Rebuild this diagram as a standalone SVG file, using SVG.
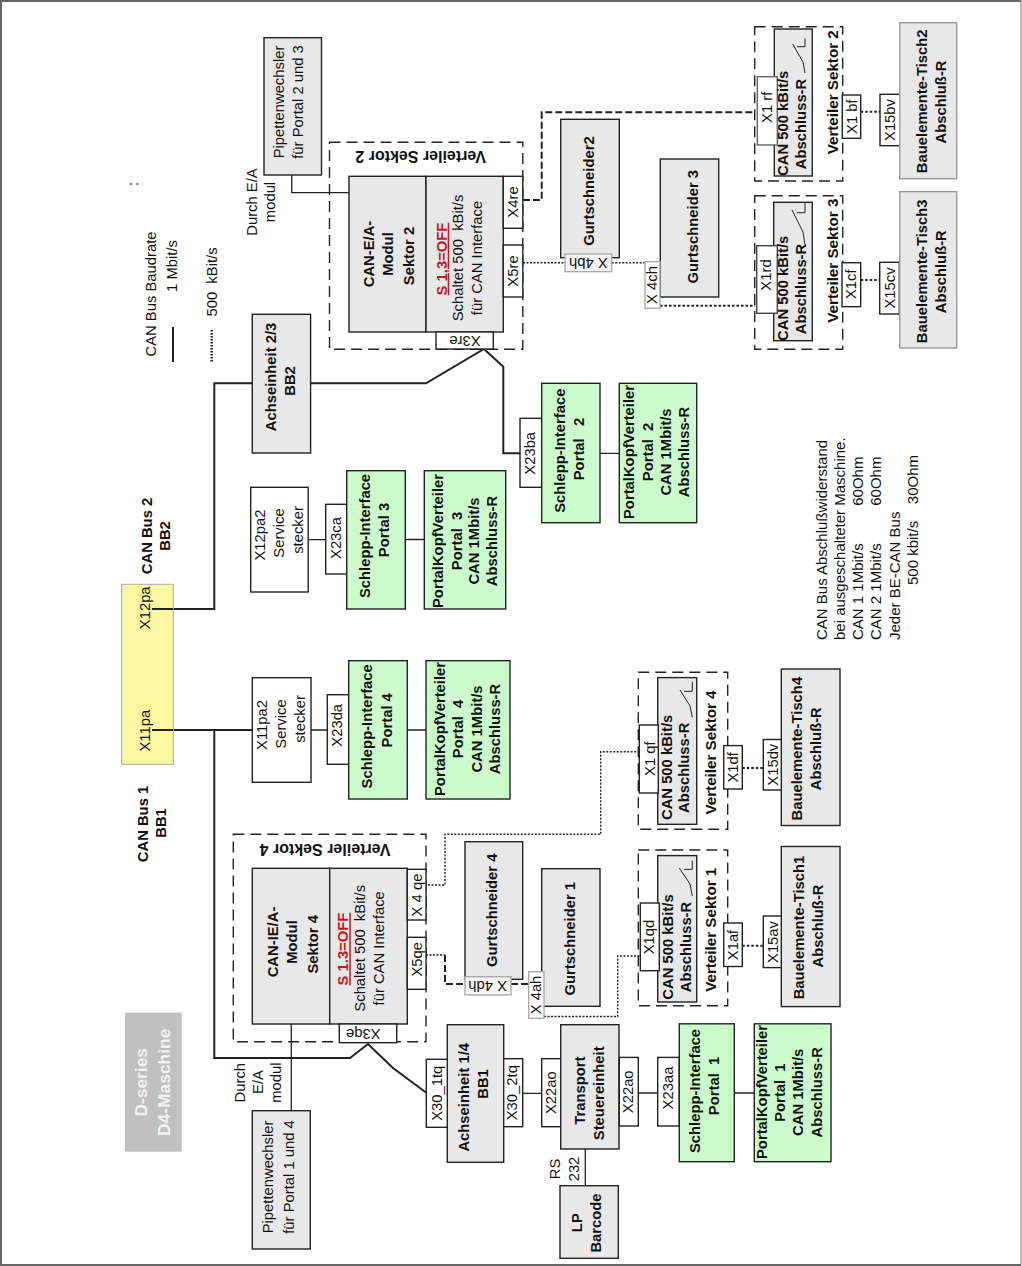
<svg xmlns="http://www.w3.org/2000/svg" width="1022" height="1266" viewBox="0 0 1022 1266">
<style>
text{font-family:"Liberation Sans",Arial,sans-serif;font-size:14.8px;text-anchor:middle;fill:#111;white-space:pre}
.b{font-weight:bold}
.s{text-anchor:start;font-size:15px}
.u{font-size:16px}
.v{font-size:15.2px}
.red{fill:#c8141c;text-decoration:underline;font-weight:bold}
.w{fill:#f2f2f2;font-weight:bold;font-size:17.4px}
rect{stroke:#222;stroke-width:1.4}
.g{fill:#e8e8e8}
.gl{fill:#e8e8e8;stroke:#999}
.n{fill:#ccfbcc}
.x{fill:#fff}
.xg{fill:#fff;stroke:#aaa}
.fr{fill:none;stroke-dasharray:11 6}
.c{fill:none;stroke:#222}
.t{stroke-width:2}
.m{stroke-width:1.3}
.dot{stroke-width:2;stroke-dasharray:2.5 2}
.fine{stroke-width:1.4;stroke-dasharray:2 1.5}
.dash{stroke-width:2;stroke-dasharray:7 3}
</style>
<rect width="1022" height="1266" style="fill:#fff;stroke:none"/>
<path class="c" style="stroke:#bbb;stroke-width:2" d="M1021 1V1265"/>
<path class="c" style="stroke:#666;stroke-width:2" d="M1021 1H1V1265H1021"/>
<g id="connectors">
<path class="c t" d="M152 609H214.3V383.3H426L484 349L503.3 366.7V453.3H520"/>
<path class="c t" d="M152 730H253M214.3 730V1058H350L368 1044L393 1068L426.7 1093"/>
<path class="c m" d="M291.7 160V192.7H349"/>
<path class="c m" d="M291.3 1024V1110.7"/>
<path class="c m" d="M308 539.7H326M405 539.5H424.3M311 730H327.3M407 730H426M600 453.3H619.3M522.7 1093.3H541.7M638.3 1093H657.7M734.3 1093H754.3M585.3 1149V1185.7"/>
<path class="c dash" d="M523 200H541.7V112.3H755"/>
<path class="c fine" d="M523 262.7H565M611.7 262.7H645"/>
<path class="c dot" d="M660 305.7H755"/>
<path class="c dot" d="M860.7 111.7H880M860.7 280H880M742.3 768H763.3M742.3 945.8H763.3"/>
<path class="c fine" d="M428 885H445V834.3H600.7V751.7H639.3"/>
<path class="c fine" d="M426 955H445"/>
<path class="c dash" d="M445 955V984H465M511 984H529"/>
<path class="c fine" d="M544 1016.5H617.7V956H646.7"/>
</g>
<g id="legend">
<text transform="translate(156 294) rotate(-90)">CAN Bus Baudrate</text>
<text transform="translate(177 266) rotate(-90)">1 Mbit/s</text>
<path class="c t" d="M173 327V362"/>
<text transform="translate(217 282) rotate(-90)">500  kBit/s</text>
<path class="c" style="stroke-width:2.5;stroke-dasharray:1.5 1.5" d="M211.7 330V362"/>
<text transform="translate(138 184) rotate(-90)">:</text>
</g>
<g id="pipette23">
<rect class="g" x="264" y="37.7" width="57.5" height="137.3"/>
<text transform="translate(284 102) rotate(-90)">Pipettenwechsler</text>
<text transform="translate(303 102) rotate(-90)">für Portal 2 und 3</text>
</g>
<g id="durch23">
<text transform="translate(256.7 202) rotate(-90)">Durch E/A</text>
<text transform="translate(275 202) rotate(-90)">modul</text>
</g>
<g id="achse23">
<rect class="g" x="252.3" y="314.3" width="58.3" height="138.7"/>
<text class="b" transform="translate(275.7 377) rotate(-90)">Achseinheit 2/3</text>
<text class="b" transform="translate(295 381) rotate(-90)">BB2</text>
</g>
<g id="sektor2">
<rect class="fr" x="329.5" y="142.3" width="193.3" height="207"/>
<text class="b u" transform="translate(420.7 151) rotate(180)">Verteiler Sektor 2</text>
<rect class="g" x="349" y="176.3" width="77" height="155.7"/>
<rect class="g" x="426" y="176.3" width="77.3" height="155.7"/>
<rect class="x" x="503.3" y="176.3" width="19.5" height="52"/>
<rect class="x" x="503.3" y="245" width="19.5" height="52"/>
<rect class="x" x="436" y="332" width="57.3" height="17"/>
<text class="b" transform="translate(374 254) rotate(-90)">CAN-E/A-</text>
<text class="b" transform="translate(393 254) rotate(-90)">Modul</text>
<text class="b" transform="translate(414 256) rotate(-90)">Sektor 2</text>
<text class="red" transform="translate(446.7 259) rotate(-90)">S 1,3=OFF</text>
<text transform="translate(463 258) rotate(-90)">Schaltet 500  kBit/s</text>
<text transform="translate(481.7 258) rotate(-90)">für CAN Interface</text>
<text transform="translate(518 202) rotate(-90)">X4re</text>
<text transform="translate(518 271) rotate(-90)">X5re</text>
<text transform="translate(465 335.5) rotate(180)">X3re</text>
</g>
<g id="bus">
<rect style="fill:#fbf7a2;stroke:#aaa;stroke-width:1" x="121.7" y="584.3" width="51.6" height="180"/>
<text transform="translate(150 607.8) rotate(-90)">X12pa</text>
<text transform="translate(150 730.7) rotate(-90)">X11pa</text>
<path class="c t" d="M152 609H173M152 730H173"/>
</g>
<g id="canbus2">
<text class="b" transform="translate(151.7 536) rotate(-90)">CAN Bus 2</text>
<text class="b" transform="translate(170 536) rotate(-90)">BB2</text>
</g>
<g id="canbus1">
<text class="b" transform="translate(148 824) rotate(-90)">CAN Bus 1</text>
<text class="b" transform="translate(166 823) rotate(-90)">BB1</text>
</g>
<g id="service3">
<rect class="x" x="250.7" y="487.3" width="57.5" height="104.7"/>
<text transform="translate(265 535) rotate(-90)">X12pa2</text>
<text transform="translate(284 533) rotate(-90)">Service</text>
<text transform="translate(303 530) rotate(-90)">stecker</text>
</g>
<g id="x23ca">
<rect class="x" x="325.7" y="504.3" width="21" height="69.7"/>
<text transform="translate(340.7 538) rotate(-90)">X23ca</text>
</g>
<g id="schlepp3">
<rect class="n" x="346.7" y="470.7" width="58.6" height="138.3"/>
<text class="b" transform="translate(370 536) rotate(-90)">Schlepp-Interface</text>
<text class="b" transform="translate(389 530) rotate(-90)">Portal 3</text>
</g>
<g id="pkv3">
<rect class="n" x="424.3" y="470.7" width="81.4" height="138.3"/>
<text class="b" transform="translate(443 541) rotate(-90)">PortalKopfVerteiler</text>
<text class="b" transform="translate(461.7 541) rotate(-90)">Portal  3</text>
<text class="b" transform="translate(479.3 541) rotate(-90)">CAN 1Mbit/s</text>
<text class="b" transform="translate(496.7 541) rotate(-90)">Abschluss-R</text>
</g>
<g id="service4">
<rect class="x" x="252.3" y="677.7" width="58.7" height="104.6"/>
<text transform="translate(266.7 725) rotate(-90)">X11pa2</text>
<text transform="translate(285.7 724) rotate(-90)">Service</text>
<text transform="translate(305 719) rotate(-90)">stecker</text>
</g>
<g id="x23da">
<rect class="x" x="327.3" y="694.7" width="21.4" height="69.6"/>
<text transform="translate(341.7 725.3) rotate(-90)">X23da</text>
</g>
<g id="schlepp4">
<rect class="n" x="348.7" y="660.7" width="58.6" height="138.3"/>
<text class="b" transform="translate(372.3 726.3) rotate(-90)">Schlepp-Interface</text>
<text class="b" transform="translate(391.7 720.3) rotate(-90)">Portal 4</text>
</g>
<g id="pkv4">
<rect class="n" x="426" y="660.7" width="84" height="138.3"/>
<text class="b" transform="translate(445 729) rotate(-90)">PortalKopfVerteiler</text>
<text class="b" transform="translate(463.3 729) rotate(-90)">Portal  4</text>
<text class="b" transform="translate(481.7 729) rotate(-90)">CAN 1Mbit/s</text>
<text class="b" transform="translate(500 729) rotate(-90)">Abschluss-R</text>
</g>
<g id="x23ba">
<rect class="x" x="520" y="418.3" width="21.7" height="69"/>
<text transform="translate(535 453.3) rotate(-90)">X23ba</text>
</g>
<g id="schlepp2">
<rect class="n" x="541.7" y="383.3" width="58.3" height="139.4"/>
<text class="b" transform="translate(565 450.7) rotate(-90)">Schlepp-Interface</text>
<text class="b" transform="translate(584 449) rotate(-90)">Portal   2</text>
</g>
<g id="pkv2">
<rect class="n" x="619.3" y="383.3" width="77.4" height="139.4"/>
<text class="b" transform="translate(634 452) rotate(-90)">PortalKopfVerteiler</text>
<text class="b" transform="translate(652.7 452) rotate(-90)">Portal  2</text>
<text class="b" transform="translate(670.7 452) rotate(-90)">CAN 1Mbit/s</text>
<text class="b" transform="translate(689 452) rotate(-90)">Abschluss-R</text>
</g>
<g id="gurt2">
<rect class="g" x="560.7" y="119.3" width="58.6" height="138.4"/>
<rect style="fill:#f4f4f4;stroke:#aaa" x="565" y="254" width="46.7" height="17.7"/>
<text transform="translate(588.3 257.5) rotate(180)">X 4bh</text>
<text class="b" transform="translate(594 191) rotate(-90)">Gurtschneider2</text>
</g>
<g id="gurt3">
<rect class="g" x="660.3" y="159" width="58.4" height="138"/>
<text class="b" transform="translate(697.7 226.7) rotate(-90)">Gurtschneider 3</text>
</g>
<g id="x4ch">
<rect class="xg" x="645" y="261.7" width="15" height="46.6"/>
<text transform="translate(656.7 285) rotate(-90)">X 4ch</text>
</g>
<g id="vs2">
<rect class="fr" x="754.7" y="26.7" width="88" height="154.3"/>
<rect class="g" x="774.3" y="29" width="38" height="147"/>
<path class="c" d="M805 73L803 62L792.7 44M805 38.3V46.7H797"/>
<rect style="fill:#fff;stroke:#666" x="757.3" y="76.7" width="20" height="68.3"/>
<text transform="translate(771.7 107.3) rotate(-90)">X1 rf</text>
<text class="b" transform="translate(787.7 123.3) rotate(-90)">CAN 500 kBit/s</text>
<text class="b" transform="translate(806 124) rotate(-90)">Abschluss-R</text>
<text class="b v" transform="translate(838.3 92.3) rotate(-90)">Verteiler Sektor 2</text>
<rect class="x" x="842.3" y="95" width="18.4" height="43.3"/>
<text transform="translate(856.7 116.7) rotate(-90)">X1 bf</text>
</g>
<g id="x15bv">
<rect class="x" x="880" y="94.3" width="20" height="51.4"/>
<text transform="translate(895 120) rotate(-90)">X15bv</text>
</g>
<g id="tisch2">
<rect class="gl" x="899.7" y="22.7" width="57" height="156"/>
<text class="b" transform="translate(927.3 101.3) rotate(-90)">Bauelemente-Tisch2</text>
<text class="b" transform="translate(946 102) rotate(-90)">Abschluß-R</text>
</g>
<g id="vs3">
<rect class="fr" x="754.7" y="195.7" width="88" height="153.6"/>
<rect class="g" x="773.7" y="202.3" width="38.6" height="138.4"/>
<path class="c" d="M805 245L803 232L792 210M805 202.3V212.7H796.7"/>
<rect style="fill:#fff;stroke:#444" x="756.7" y="245.7" width="20.6" height="67.6"/>
<text transform="translate(770.7 275) rotate(-90)">X1rd</text>
<text class="b" transform="translate(787.7 288.3) rotate(-90)">CAN 500 kBit/s</text>
<text class="b" transform="translate(806 289) rotate(-90)">Abschluss-R</text>
<text class="b v" transform="translate(838.3 260.7) rotate(-90)">Verteiler Sektor 3</text>
<rect class="x" x="842" y="262.7" width="18.7" height="44"/>
<text transform="translate(856 284.3) rotate(-90)">X1cf</text>
</g>
<g id="x15cv">
<rect class="x" x="879.7" y="262.3" width="19.6" height="51.7"/>
<text transform="translate(895 288) rotate(-90)">X15cv</text>
</g>
<g id="tisch3">
<rect class="gl" x="899.7" y="191.7" width="57" height="156.3"/>
<text class="b" transform="translate(927.3 271.3) rotate(-90)">Bauelemente-Tisch3</text>
<text class="b" transform="translate(946 271.7) rotate(-90)">Abschluß-R</text>
</g>
<g id="sektor4">
<rect class="fr" x="233.3" y="834.3" width="192.7" height="207.4"/>
<text class="b u" transform="translate(325 843.5) rotate(180)">Verteiler Sektor 4</text>
<rect class="g" x="252.3" y="868.3" width="77.4" height="155.7"/>
<rect class="g" x="329.7" y="868.3" width="77.6" height="155.7"/>
<rect class="x" x="407.3" y="869.3" width="18.7" height="50.7"/>
<rect class="x" x="407.3" y="937.3" width="18.7" height="52"/>
<rect class="x" x="339.3" y="1024" width="57.4" height="18.7"/>
<text class="b" transform="translate(278.3 942) rotate(-90)">CAN-IE/A-</text>
<text class="b" transform="translate(297.3 942) rotate(-90)">Modul</text>
<text class="b" transform="translate(318.3 944.3) rotate(-90)">Sektor 4</text>
<text class="red" transform="translate(348.3 949) rotate(-90)">S 1.3=OFF</text>
<text transform="translate(365 948.3) rotate(-90)">Schaltet 500  kBit/s</text>
<text transform="translate(384.3 948.3) rotate(-90)">für CAN Interface</text>
<text transform="translate(421.7 895) rotate(-90)">X 4 qe</text>
<text transform="translate(421.7 959.3) rotate(-90)">X5qe</text>
<text transform="translate(363.3 1028.5) rotate(180)">X3qe</text>
</g>
<g id="pipette14">
<rect class="g" x="252.3" y="1110.7" width="58" height="138.3"/>
<text transform="translate(273.3 1177) rotate(-90)">Pipettenwechsler</text>
<text transform="translate(294 1177) rotate(-90)">für Portal 1 und 4</text>
</g>
<g id="durch14">
<text transform="translate(245 1082.7) rotate(-90)">Durch</text>
<text transform="translate(263.3 1082) rotate(-90)">E/A</text>
<text transform="translate(281 1082.7) rotate(-90)">modul</text>
</g>
<g id="dseries">
<rect style="fill:#c0c0c0;stroke:none" x="125" y="1012.7" width="56.7" height="139"/>
<text class="w" transform="translate(147.3 1082.3) rotate(-90)">D-series</text>
<text class="w" transform="translate(170 1082.3) rotate(-90)">D4-Maschine</text>
</g>
<g id="achse14">
<rect class="g" x="447.3" y="1024.7" width="56.4" height="137.6"/>
<text class="b" transform="translate(469 1097.3) rotate(-90)">Achseinheit 1/4</text>
<text class="b" transform="translate(487.7 1084) rotate(-90)">BB1</text>
</g>
<g id="x30_1tq">
<rect class="x" x="426.3" y="1059.3" width="21" height="68"/>
<text transform="translate(441.7 1093.3) rotate(-90)">X30_1tq</text>
</g>
<g id="x30_2tq">
<rect class="x" x="503.7" y="1058.7" width="19" height="68"/>
<text transform="translate(516.7 1092.7) rotate(-90)">X30_2tq</text>
</g>
<g id="x22ao1">
<rect class="x" x="541.7" y="1058.7" width="19" height="68"/>
<text transform="translate(556 1092.7) rotate(-90)">X22ao</text>
</g>
<g id="transport">
<rect class="g" x="560.7" y="1024.7" width="58.3" height="124.3"/>
<text class="b" transform="translate(585 1090.7) rotate(-90)">Transport</text>
<text class="b" transform="translate(604.3 1093.3) rotate(-90)">Steuereinheit</text>
</g>
<g id="rs232">
<text transform="translate(560 1169) rotate(-90)">RS</text>
<text transform="translate(579.3 1169) rotate(-90)">232</text>
</g>
<g id="barcode">
<rect class="g" x="560" y="1185.7" width="58.3" height="72.6"/>
<text class="b" transform="translate(581.7 1222.7) rotate(-90)">LP</text>
<text class="b" transform="translate(601 1223) rotate(-90)">Barcode</text>
</g>
<g id="gurt4">
<rect class="g" x="465" y="841.7" width="57.7" height="137.6"/>
<rect style="fill:#f6f6f6;stroke:#aaa" x="465" y="976.7" width="46" height="18.3"/>
<text transform="translate(487.7 980.7) rotate(180)">X 4dh</text>
<text class="b" transform="translate(497.3 910.3) rotate(-90)">Gurtschneider 4</text>
</g>
<g id="gurt1">
<rect class="g" x="541.7" y="868.7" width="58.3" height="137.6"/>
<text class="b" transform="translate(575 938.7) rotate(-90)">Gurtschneider 1</text>
</g>
<g id="x4ah">
<rect class="xg" x="528.7" y="971.7" width="15.3" height="46.6"/>
<text transform="translate(540.7 995) rotate(-90)">X 4ah</text>
</g>
<g id="vs4">
<rect class="fr" x="638.3" y="672.2" width="89.4" height="157.1"/>
<rect class="g" x="657.7" y="677.6" width="39" height="146.7"/>
<path class="c" d="M692.3 717.3L690 706L680 690M692.3 681.8V691.3H684"/>
<rect class="x" x="639.3" y="725" width="19" height="68"/>
<text transform="translate(655 758.6) rotate(-90)">X1 qf</text>
<text class="b" transform="translate(671.7 767.4) rotate(-90)">CAN 500 kBit/s</text>
<text class="b" transform="translate(689.3 767.8) rotate(-90)">Abschluss-R</text>
<text class="b v" transform="translate(715.7 752.5) rotate(-90)">Verteiler Sektor 4</text>
<rect class="x" x="723.7" y="745.6" width="18.6" height="43.4"/>
<text transform="translate(738.3 767.4) rotate(-90)">X1df</text>
</g>
<g id="x15dv">
<rect class="x" x="763.3" y="739.5" width="19.4" height="50.5"/>
<text transform="translate(778.3 764.7) rotate(-90)">X15dv</text>
</g>
<g id="tisch4">
<rect class="g" x="781.3" y="669" width="58.7" height="156.5"/>
<text class="b" transform="translate(801.7 748.7) rotate(-90)">Bauelemente-Tisch4</text>
<text class="b" transform="translate(821 748.7) rotate(-90)">Abschluß-R</text>
</g>
<g id="vs1">
<rect class="fr" x="638.3" y="850" width="89.4" height="155.8"/>
<rect class="g" x="657.7" y="855.6" width="39" height="146.4"/>
<path class="c" d="M692.3 896L690 884L679.3 868M692.3 860.6V869.4H684"/>
<rect class="x" x="640.3" y="903" width="19" height="67.7"/>
<text transform="translate(654.3 937) rotate(-90)">X1qd</text>
<text class="b" transform="translate(673.3 947) rotate(-90)">CAN 500 kBit/s</text>
<text class="b" transform="translate(691 947) rotate(-90)">Abschluss-R</text>
<text class="b v" transform="translate(715.7 929.8) rotate(-90)">Verteiler Sektor 1</text>
<rect class="x" x="723.7" y="923" width="18.6" height="43.5"/>
<text transform="translate(737.7 945) rotate(-90)">X1af</text>
</g>
<g id="x15av">
<rect class="x" x="763.3" y="916" width="19.4" height="51.6"/>
<text transform="translate(778.3 942) rotate(-90)">X15av</text>
</g>
<g id="tisch1">
<rect class="g" x="781.3" y="846.5" width="58.7" height="160.1"/>
<text class="b" transform="translate(804.3 927.5) rotate(-90)">Bauelemente-Tisch1</text>
<text class="b" transform="translate(822.7 926) rotate(-90)">Abschluß-R</text>
</g>
<g id="x22ao2">
<rect class="x" x="619.3" y="1057.4" width="19" height="68.6"/>
<text transform="translate(633.3 1091.8) rotate(-90)">X22ao</text>
</g>
<g id="x23aa">
<rect class="x" x="657.7" y="1057.4" width="21.6" height="68.6"/>
<text transform="translate(673.3 1088) rotate(-90)">X23aa</text>
</g>
<g id="schlepp1">
<rect class="n" x="679.3" y="1023.8" width="55" height="137.9"/>
<text class="b" transform="translate(700 1091) rotate(-90)">Schlepp-Interface</text>
<text class="b" transform="translate(719.3 1086) rotate(-90)">Portal  1</text>
</g>
<g id="pkv1">
<rect class="n" x="754.3" y="1023.8" width="76.7" height="137.9"/>
<text class="b" transform="translate(767.3 1092) rotate(-90)">PortalKopfVerteiler</text>
<text class="b" transform="translate(785 1092.6) rotate(-90)">Portal  1</text>
<text class="b" transform="translate(803.3 1092.3) rotate(-90)">CAN 1Mbit/s</text>
<text class="b" transform="translate(821.7 1092.3) rotate(-90)">Abschluss-R</text>
</g>
<g id="notes">
<text class="s" transform="translate(826.7 640) rotate(-90)">CAN Bus Abschlußwiderstand</text>
<text class="s" transform="translate(845 640) rotate(-90)">bei ausgeschalteter Maschine.</text>
<text class="s" transform="translate(863.3 640) rotate(-90)">CAN 1 1Mbit/s         60Ohm</text>
<text class="s" transform="translate(881 640) rotate(-90)">CAN 2 1Mbit/s         60Ohm</text>
<text class="s" transform="translate(900 640) rotate(-90)">Jeder BE-CAN Bus</text>
<text class="s" transform="translate(918 585) rotate(-90)">500 kbit/s    30Ohm</text>
</g>
</svg>
